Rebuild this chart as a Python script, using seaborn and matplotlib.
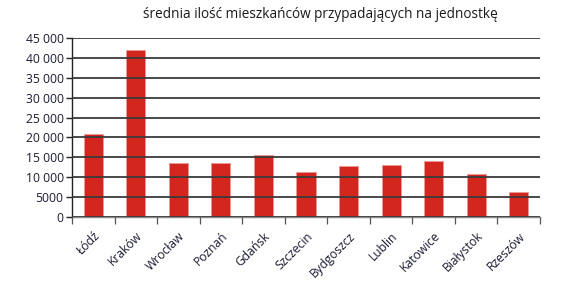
import matplotlib
matplotlib.use("Agg")
import matplotlib.pyplot as plt
import seaborn as sns
import numpy as np
import pandas as pd
from matplotlib.ticker import FuncFormatter, FixedLocator

cities = ["Łódź", "Kraków", "Wrocław", "Poznań", "Gdańsk", "Szczecin",
          "Bydgoszcz", "Lublin", "Katowice", "Białystok", "Rzeszów"]
values = [20900, 42000, 13500, 13500, 15500, 11400,
          12800, 13000, 14100, 10700, 6300]
title = "średnia ilość mieszkańców przypadających na jednostkę"

sns.set_theme(style="white")
plt.rcParams["font.family"] = ["Open Sans", "DejaVu Sans"]

df = pd.DataFrame({"city": cities, "value": values})

fig = plt.figure(figsize=(5.66, 2.85), dpi=100)
ax = fig.add_axes([72/566, 1-217/285, (540-72)/566, (217-38)/285])

sns.barplot(data=df, x="city", y="value", color="#d2261f", saturation=1,
            width=0.45, edgecolor="#eb9a98", linewidth=0.6, ax=ax)

ax.set_xlim(-0.5, len(cities) - 0.5)
ax.set_ylim(0, 45000)
ax.set_yticks(np.arange(0, 45001, 5000))

def fmt(v, pos):
    v = int(round(v))
    if v >= 10000:
        return f"{v:,}".replace(",", " ")
    return str(v)

ax.yaxis.set_major_formatter(FuncFormatter(fmt))
ax.set_xlabel("")
ax.set_ylabel("")

ax.set_axisbelow(False)
ax.yaxis.grid(True, color="#3a3a3a", linewidth=1.3, zorder=3)
ax.xaxis.grid(False)

for s in ["top", "right"]:
    ax.spines[s].set_visible(False)
ax.spines["left"].set_color("#222222")
ax.spines["left"].set_linewidth(1.0)
ax.spines["bottom"].set_color("#888888")
ax.spines["bottom"].set_linewidth(1.0)

ax.tick_params(axis="y", which="major", left=True, length=4, width=1,
               color="#222222", labelsize=8.7, labelcolor="#1a1a33", pad=2)
ax.xaxis.set_minor_locator(FixedLocator(np.arange(-0.5, len(cities), 1.0)))
ax.tick_params(axis="x", which="major", bottom=False, labelsize=8.7,
               labelcolor="#1a1a33", pad=3)
ax.tick_params(axis="x", which="minor", bottom=True, length=5, width=0.9,
               color="#555555")
plt.setp(ax.get_xticklabels(), rotation=45, ha="right", rotation_mode="anchor")

fig.text(320/566, 1-14/285, title, ha="center", va="center", fontsize=9.8,
         color="#1a1a1a")

fig.savefig("out.png", dpi=100)
